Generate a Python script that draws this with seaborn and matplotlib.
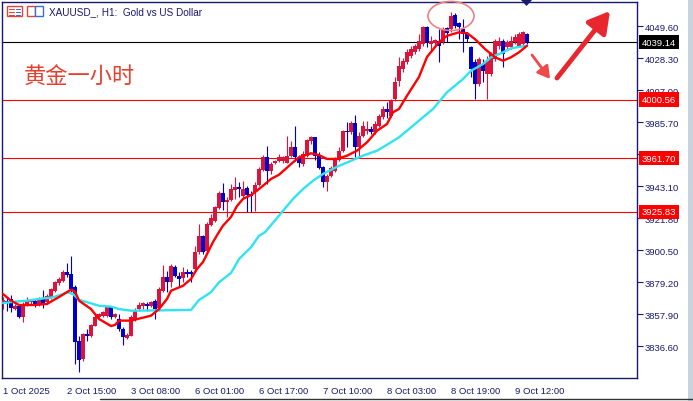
import numpy as np
import pandas as pd
import matplotlib
matplotlib.use("Agg")
import matplotlib.pyplot as plt
import seaborn as sns
from matplotlib.patches import Ellipse, Polygon, Rectangle

# --- data (bar index = hour since start of window) ---
opens = [
    3864.6, 3866.8, 3867.9, 3861.2, 3863.5, 3855.7, 3864.6, 3865.7,
    3866.8, 3864.6, 3867.9, 3865.7, 3869.0, 3873.4, 3878.5, 3880.1,
    3885.6, 3884.5, 3875.7, 3840.2, 3827.9, 3844.6, 3843.0, 3850.1,
    3855.7, 3856.8, 3856.8, 3862.3, 3855.7, 3854.6, 3847.9, 3841.7,
    3843.5, 3854.6, 3861.2, 3863.4, 3864.5, 3863.4, 3866.8, 3861.9,
    3873.4, 3882.3, 3879.4, 3889.4, 3883.4, 3881.6, 3885.6, 3886.1,
    3887.8, 3898.9, 3910.0, 3900.0, 3917.1, 3920.0, 3928.2, 3938.4,
    3932.2, 3934.0, 3940.7, 3942.2, 3936.2, 3941.5, 3937.8, 3939.3,
    3944.0, 3954.0, 3962.2, 3953.3, 3958.2, 3959.5, 3959.5, 3958.2,
    3963.3, 3968.8, 3962.6, 3957.7, 3963.3, 3972.8, 3975.5, 3963.3,
    3955.5, 3945.5, 3950.0, 3953.3, 3960.4, 3966.6, 3979.9, 3978.8,
    3985.0, 3968.8, 3976.6, 3979.9, 3981.0, 3978.8, 3983.3, 3988.8,
    3994.3, 3989.9, 4001.0, 4013.0, 4021.0, 4025.6, 4029.6, 4032.3,
    4034.3, 4037.6, 4048.9, 4037.6, 4038.0, 4039.6, 4039.0, 4048.3,
    4047.6, 4056.9, 4051.6, 4047.6, 4044.3, 4035.6, 4025.6, 4011.0,
    4024.3, 4017.6, 4017.6, 4027.6, 4036.3, 4039.6, 4035.6, 4035.6,
    4039.0, 4036.3, 4037.6, 4044.3,
]
highs = [
    3869.0, 3869.0, 3870.5, 3864.5, 3864.0, 3866.0, 3869.4, 3868.0,
    3867.9, 3869.0, 3873.9, 3871.2, 3875.0, 3880.1, 3882.3, 3887.0,
    3891.9, 3896.7, 3877.0, 3843.0, 3845.5, 3847.9, 3851.5, 3857.9,
    3858.5, 3860.0, 3863.5, 3863.5, 3858.5, 3857.9, 3849.0, 3845.0,
    3857.0, 3862.0, 3865.7, 3865.7, 3866.1, 3866.8, 3867.9, 3875.6,
    3890.7, 3886.7, 3891.2, 3890.7, 3885.6, 3889.0, 3887.8, 3887.0,
    3902.9, 3917.8, 3910.5, 3918.9, 3924.5, 3929.6, 3940.0, 3944.9,
    3935.6, 3944.4, 3949.3, 3945.5, 3946.7, 3943.3, 3940.0, 3945.5,
    3955.5, 3964.0, 3969.5, 3958.8, 3960.5, 3964.4, 3963.3, 3976.6,
    3973.3, 3983.3, 3963.9, 3966.6, 3974.4, 3976.6, 3975.9, 3965.5,
    3956.6, 3951.1, 3956.6, 3962.2, 3968.8, 3980.4, 3985.5, 3986.2,
    3990.6, 3978.8, 3986.6, 3986.6, 3983.3, 3986.2, 3991.0, 3996.6,
    3998.8, 4001.0, 4016.0, 4029.0, 4028.0, 4034.0, 4036.0, 4037.5,
    4044.3, 4049.6, 4049.6, 4043.0, 4041.0, 4047.6, 4049.0, 4049.0,
    4058.9, 4058.3, 4052.3, 4054.3, 4045.6, 4036.3, 4027.6, 4029.0,
    4027.6, 4029.6, 4032.3, 4041.0, 4042.3, 4041.0, 4040.3, 4043.0,
    4044.3, 4045.6, 4046.3, 4045.0,
]
lows = [
    3861.0, 3860.1, 3859.0, 3860.5, 3855.0, 3852.4, 3863.0, 3864.5,
    3862.3, 3863.5, 3861.7, 3864.6, 3868.0, 3872.3, 3877.5, 3879.5,
    3882.3, 3872.3, 3824.6, 3819.1, 3826.5, 3840.2, 3842.5, 3849.7,
    3855.0, 3856.0, 3855.7, 3854.6, 3855.0, 3846.8, 3837.5, 3841.0,
    3843.0, 3853.5, 3860.1, 3861.2, 3860.1, 3862.5, 3854.6, 3860.1,
    3872.3, 3872.3, 3876.1, 3882.3, 3876.1, 3879.0, 3882.3, 3879.0,
    3886.7, 3897.8, 3897.8, 3899.4, 3916.3, 3919.4, 3927.8, 3927.3,
    3922.2, 3933.3, 3934.4, 3935.6, 3934.4, 3926.0, 3926.0, 3926.7,
    3943.3, 3953.3, 3944.4, 3951.1, 3957.5, 3958.8, 3958.5, 3958.2,
    3962.2, 3959.9, 3955.5, 3956.6, 3962.2, 3971.0, 3960.4, 3954.4,
    3942.2, 3940.0, 3948.9, 3952.2, 3959.9, 3965.5, 3968.8, 3977.7,
    3962.2, 3962.2, 3975.5, 3977.7, 3977.7, 3977.7, 3982.2, 3987.7,
    3988.4, 3988.8, 3999.5, 4010.0, 4019.0, 4024.0, 4028.0, 4031.0,
    4033.0, 4036.3, 4035.6, 4032.3, 4036.0, 4025.6, 4037.6, 4039.0,
    4045.6, 4048.3, 4040.9, 4032.3, 4039.0, 4015.7, 4001.0, 4009.7,
    4012.3, 4001.0, 4016.3, 4026.3, 4034.3, 4022.3, 4034.0, 4034.3,
    4037.6, 4035.6, 4036.3, 4037.6,
]
closes = [
    3867.4, 3865.7, 3861.7, 3863.5, 3855.7, 3864.6, 3866.8, 3866.8,
    3864.6, 3867.9, 3864.6, 3870.1, 3874.5, 3879.0, 3881.2, 3886.1,
    3883.9, 3874.5, 3839.0, 3827.5, 3844.6, 3843.0, 3850.6, 3855.7,
    3857.9, 3859.0, 3862.3, 3855.7, 3857.9, 3847.9, 3842.4, 3843.9,
    3855.7, 3860.1, 3863.9, 3865.0, 3863.0, 3866.1, 3861.2, 3874.5,
    3882.3, 3879.0, 3890.1, 3883.4, 3881.2, 3885.6, 3884.5, 3884.5,
    3899.4, 3910.0, 3899.4, 3917.8, 3921.6, 3928.9, 3938.4, 3932.2,
    3934.0, 3941.1, 3942.2, 3941.1, 3941.1, 3937.1, 3936.7, 3944.0,
    3954.4, 3962.2, 3953.3, 3957.7, 3959.9, 3962.2, 3962.2, 3963.3,
    3968.8, 3962.2, 3958.2, 3964.4, 3973.7, 3975.5, 3963.3, 3955.1,
    3945.5, 3950.0, 3955.1, 3961.1, 3966.6, 3979.5, 3978.8, 3985.0,
    3968.8, 3976.6, 3983.3, 3981.0, 3978.8, 3984.4, 3989.9, 3994.3,
    3992.1, 3999.9, 4012.3, 4023.0, 4026.3, 4032.3, 4034.3, 4036.3,
    4039.6, 4048.9, 4039.0, 4039.6, 4040.0, 4036.3, 4047.6, 4045.0,
    4056.3, 4049.6, 4048.9, 4044.3, 4040.9, 4021.0, 4011.0, 4027.6,
    4019.6, 4026.3, 4031.0, 4039.6, 4039.6, 4031.0, 4039.0, 4039.6,
    4042.3, 4044.3, 4045.6, 4039.14,
]

# moving averages (fast = red, slow = cyan), read at knot bars
fast_bars = [0, 2, 4, 8, 11, 14, 16, 17, 18, 19, 22, 24, 27, 28, 29, 32, 37, 39, 41, 42,
             45, 47, 48.5, 50, 51, 52.5, 54, 55, 57, 58.5, 60, 62, 63.5, 65.5, 67, 69, 72, 74,
             77, 79, 81, 83.5, 86, 88.5, 91, 93.5, 96, 97.5, 99, 101, 104, 106, 109, 111, 114,
             116, 118, 120.5, 123, 125, 127, 129, 131]
fast_ma = [3871.2, 3866.8, 3863.9, 3863.9, 3864.6, 3869.2, 3872.5, 3874.1, 3872.8, 3866.8,
           3861.2, 3854.6, 3849.9, 3850.6, 3853.5, 3853.5, 3856.8, 3861.2, 3867.9, 3873.4,
           3876.7, 3881.2, 3887.9, 3892.5, 3897.8, 3905.8, 3912.5, 3916.7, 3922.5, 3929.8,
           3934.5, 3937.1, 3940.0, 3944.4, 3947.8, 3950.6, 3957.7, 3962.2, 3964.9, 3963.7,
           3961.1, 3961.1, 3963.3, 3966.6, 3972.2, 3979.9, 3984.4, 3992.2, 3994.4, 4003.2,
           4015.7, 4029.0, 4038.9, 4043.1, 4045.4, 4044.9, 4040.9, 4034.3, 4028.8, 4026.5,
           4028.8, 4032.1, 4036.5]
slow_bars = [0, 3, 6, 9, 12.5, 15, 16, 17.5, 19, 22, 24, 27, 29, 32, 47, 49, 52, 54, 57, 59,
             62, 64, 65.5, 72.5, 75, 77.5, 80, 83.5, 87, 90, 93.5, 97, 99, 107.5, 111, 115,
             117, 120, 122, 125, 127, 130, 131]
slow_ma = [3865.2, 3866.1, 3866.8, 3867.9, 3869.0, 3871.2, 3872.4, 3871.2, 3867.4, 3865.0,
           3863.4, 3862.8, 3861.2, 3860.1, 3860.6, 3867.2, 3872.4, 3879.0, 3885.2, 3894.5,
           3902.3, 3910.0, 3912.3, 3934.5, 3941.1, 3946.6, 3951.1, 3955.9, 3959.9, 3963.3,
           3966.6, 3972.2, 3975.5, 3994.4, 4005.5, 4014.3, 4019.8, 4024.3, 4028.8, 4032.1,
           4034.8, 4036.1, 4036.5]

price_grid = [4049.60, 4028.30, 4007.00, 3985.70, 3964.40, 3943.10,
              3921.80, 3900.50, 3879.20, 3857.90, 3836.60]
time_ticks = [0, 16, 32, 48, 64, 80, 96, 112, 128]
time_labels = ["1 Oct 2025", "2 Oct 15:00", "3 Oct 08:00", "6 Oct 01:00", "6 Oct 17:00",
               "7 Oct 10:00", "8 Oct 03:00", "8 Oct 19:00", "9 Oct 12:00"]
bid_price = 4039.14
levels = [4000.56, 3961.70, 3925.83]

# --- style ---
W, H = 693, 402
NAVY = "#191970"
UP = "#DC143C"
DOWN = "#0000CD"

sns.set_theme(style="white")
plt.rcParams["font.family"] = ["Liberation Sans", "DejaVu Sans"]

df = pd.DataFrame({"open": opens, "high": highs, "low": lows, "close": closes})
df["bar"] = np.arange(len(df))
colors = np.where(df["close"] >= df["open"], UP, DOWN)

fig = plt.figure(figsize=(W / 100, H / 100), dpi=100, facecolor="white")
ax = fig.add_axes([2 / W, (H - 379) / H, 635 / W, 376 / H])

# horizontal levels
ax.axhline(bid_price, color="black", lw=0.8, zorder=1)
for lv in levels:
    ax.axhline(lv, color="#FF0000", lw=0.8, zorder=1)

# candles
ax.vlines(df["bar"], df["low"], df["high"], colors=colors, lw=0.8, zorder=2)
body_low = df[["open", "close"]].min(axis=1)
body_h = (df["close"] - df["open"]).abs().clip(lower=0.7)
ax.bar(df["bar"], body_h, bottom=body_low, width=0.78, color=colors, linewidth=0, zorder=3)

# moving averages
sns.lineplot(x=slow_bars, y=slow_ma, color="#2FE4F0", lw=1.7, ax=ax, zorder=4)
sns.lineplot(x=fast_bars, y=fast_ma, color="#FF0000", lw=1.7, ax=ax, zorder=5)

ax.set_xlim(-0.25, 158.5)
ax.set_ylim(3815.3, 4065.6)

for s in ax.spines.values():
    s.set_color(NAVY)
    s.set_linewidth(1)

ax.yaxis.tick_right()
ax.set_yticks(price_grid)
ax.set_yticklabels([f"{p:.2f}" for p in price_grid])
ax.set_xticks(time_ticks)
ax.set_xticklabels(time_labels, ha="left")
ax.tick_params(axis="both", direction="out", length=4, width=0.8, color=NAVY,
               labelcolor=NAVY, labelsize=6.8)
ax.tick_params(axis="y", pad=1.5)
ax.tick_params(axis="x", pad=2)
ax.set_xlabel("")
ax.set_ylabel("")
ax.grid(False)


def fx(px):
    return px / W


def fy(py):
    return (H - py) / H


# highlighted price labels on the scale
fig.text(fx(642), fy(43), f"{bid_price:.2f}", color="white", fontsize=6.8, va="center",
         ha="left", bbox=dict(boxstyle="square,pad=0.3", fc="black", ec="none"))
for lv in levels:
    yy = 27 + (4049.6 - lv) / 0.6656
    fig.text(fx(642), fy(yy), f"{lv:.2f}", color="white", fontsize=6.8, va="center",
             ha="left", bbox=dict(boxstyle="square,pad=0.3", fc="#FF0000", ec="none"))

# header
fig.text(fx(49), fy(12), "XAUUSD_, H1:  Gold vs US Dollar", color=NAVY, fontsize=7.2,
         va="center", ha="left")
fig.add_artist(Rectangle((fx(7), fy(17)), 15 / W, 10 / H, transform=fig.transFigure,
                         fc="white", ec="#E0453A", lw=1))
for k in range(3):
    yy = 9.5 + 3 * k
    fig.add_artist(plt.Line2D([fx(9), fx(13.5)], [fy(yy), fy(yy)], color="#E0453A", lw=0.8))
    fig.add_artist(plt.Line2D([fx(15.5), fx(20)], [fy(yy), fy(yy)], color="#3A6FD0", lw=0.8))
fig.add_artist(Rectangle((fx(27), fy(17)), 8 / W, 10 / H, transform=fig.transFigure,
                         fc="white", ec="#E0453A", lw=1))
fig.add_artist(Rectangle((fx(35), fy(17)), 8 / W, 10 / H, transform=fig.transFigure,
                         fc="white", ec="#3A6FD0", lw=1))

# chinese label
fig.text(fx(24), fy(77), "黄金一小时", color="#E8402F", fontsize=16, va="center",
         ha="left", family=["Noto Sans CJK SC", "DejaVu Sans"])

# shift marker and highlight ellipse
fig.add_artist(Polygon([(fx(521), fy(1)), (fx(532), fy(1)), (fx(526.5), fy(7))],
                       closed=True, transform=fig.transFigure, fc=NAVY, ec="none"))
fig.add_artist(Ellipse((fx(451), fy(17)), 46 / W, 29 / H, transform=fig.transFigure,
                       fc="none", ec="#EE8080", lw=1.2))

# arrows
ax.annotate("", xy=(610, H - 12), xytext=(557, H - 79), xycoords="figure pixels",
            textcoords="figure pixels", annotation_clip=False,
            arrowprops=dict(arrowstyle="-|>,head_length=0.7,head_width=0.4", lw=3.5,
                            color="#E8262E", mutation_scale=18, shrinkA=0, shrinkB=0))
ax.annotate("", xy=(550, H - 80), xytext=(532, H - 56), xycoords="figure pixels",
            textcoords="figure pixels", annotation_clip=False,
            arrowprops=dict(arrowstyle="-|>,head_length=0.6,head_width=0.35", lw=2,
                            color="#EE4A4A", mutation_scale=12, shrinkA=0, shrinkB=0))

# window frame bits
fig.add_artist(plt.Line2D([fx(100), fx(693)], [fy(400), fy(400)], color="#333333", lw=1))
fig.add_artist(Rectangle((fx(688), 0), 5 / W, 1, transform=fig.transFigure,
                         fc="#C9D2DD", ec="none"))

fig.savefig("out.png", dpi=100, facecolor="white")
